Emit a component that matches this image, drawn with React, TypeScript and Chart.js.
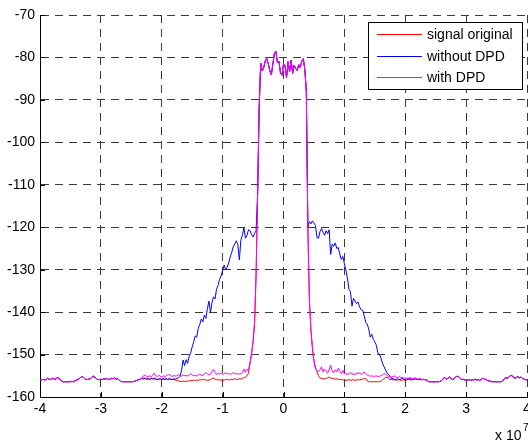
import React, { useEffect, useRef } from "react";
import { Chart, registerables } from "chart.js";

Chart.register(...registerables);

// Sample grid of the spectra (Hz)
const FREQ_START_HZ = -4e7;
const FREQ_STEP_HZ = 2.5e5;

const X_TICKS = [-4, -3, -2, -1, 0, 1, 2, 3, 4]; // in units of 1e7 Hz
const Y_TICKS = [-160, -150, -140, -130, -120, -110, -100, -90, -80, -70];

const SERIES_LABELS = ["signal original", "without DPD", "with DPD"];
const SERIES_COLORS = ["#ff0000", "#0000ff", "#ff00ff"];

// Noise floor shared by every trace, -4.000 .. -2.325 (x1e7 Hz)
const FLOOR_LEFT = [
  -155.9, -156.0, -155.8, -156.0, -155.9, -155.6, -155.8, -155.9, -155.6, -155.7,
  -155.9, -155.5, -155.4, -155.8, -156.2, -156.4, -156.4, -156.4, -156.4, -156.4,
  -156.4, -156.3, -156.4, -156.2, -156.0, -155.9, -155.6, -155.3, -155.2, -155.6,
  -155.8, -155.9, -155.8, -155.7, -155.4, -155.1, -155.3, -155.7, -155.9, -155.9,
  -155.8, -155.9, -155.7, -155.8, -155.6, -155.9, -155.8, -155.6, -155.7, -155.5,
  -155.8, -155.7, -156.0, -156.3, -156.4, -156.4, -156.4, -156.4, -156.4, -156.4,
  -156.4, -156.4, -156.3, -156.2, -156.0, -155.9, -155.8, -155.6,
];

// Noise floor shared by every trace, 2.325 .. 4.000
const FLOOR_RIGHT = [
  -155.9, -156.0, -156.3, -156.4, -156.4, -156.4, -156.4, -156.4, -156.4, -156.4,
  -156.3, -156.1, -155.6, -155.4, -155.8, -155.6, -155.3, -155.6, -155.9, -155.7,
  -155.3, -155.1, -155.2, -155.6, -155.9, -155.8, -156.0, -155.9, -156.0, -155.9,
  -156.1, -155.9, -156.0, -155.8, -156.0, -155.9, -156.1, -155.8, -155.6, -155.7,
  -155.9, -156.1, -156.2, -156.3, -156.4, -156.4, -156.4, -156.4, -156.4, -156.4,
  -156.4, -156.2, -155.8, -155.4, -155.6, -155.3, -155.0, -154.9, -155.3, -155.6,
  -155.4, -155.2, -155.5, -155.3, -155.6, -155.8, -155.9, -156.0,
];

// Main channel, -0.550 .. 0.550
const MAIN_BAND = [
  -152.0, -149.8, -147.0, -142.5, -131.0, -112.0, -92.0, -81.3, -83.2, -82.4,
  -80.8, -80.3, -81.5, -83.1, -84.1, -81.6, -79.1, -78.6, -81.2, -80.9,
  -83.6, -84.2, -81.6, -81.9, -84.8, -81.0, -83.4, -80.6, -83.8, -81.8,
  -82.6, -83.1, -81.7, -82.4, -80.9, -80.3, -82.8, -88.0, -120.0, -137.0,
  -144.0, -148.5, -151.5, -153.2, -154.0,
];

// signal original, -2.300 .. -0.575 and 0.575 .. 2.300
const ORIGINAL_SIDE_LEFT = [
  -155.6, -155.5, -155.7, -155.6, -155.8, -155.7, -155.6, -155.8, -155.7, -155.9,
  -155.8, -155.7, -155.8, -155.9, -155.8, -155.7, -155.9, -155.8, -155.9, -155.8,
  -155.9, -156.0, -156.1, -156.2, -156.3, -156.3, -156.3, -156.3, -156.3, -156.3,
  -156.2, -156.1, -156.2, -156.0, -156.1, -156.0, -156.1, -155.9, -156.0, -155.8,
  -155.9, -156.0, -156.1, -156.0, -155.9, -155.7, -155.5, -155.8, -155.9, -156.0,
  -155.9, -156.0, -156.1, -156.0, -155.9, -155.8, -156.0, -155.9, -155.8, -155.9,
  -155.7, -155.8, -155.9, -155.7, -155.8, -155.6, -155.5, -155.3, -155.0, -154.4,
];
const ORIGINAL_SIDE_RIGHT = [
  -155.0, -155.5, -155.7, -155.6, -155.8, -155.6, -155.5, -155.3, -155.5, -155.7,
  -155.6, -155.8, -155.7, -155.9, -155.8, -155.9, -156.0, -155.9, -156.1, -156.0,
  -155.9, -156.1, -156.0, -155.9, -156.1, -156.0, -155.9, -156.0, -155.9, -155.8,
  -155.7, -155.6, -156.2, -156.4, -156.4, -156.4, -156.4, -156.4, -156.4, -156.4,
  -156.4, -156.3, -156.0, -155.7, -155.4, -155.3, -155.6, -155.9, -155.8, -156.0,
  -155.9, -156.1, -156.0, -155.9, -156.1, -156.0, -155.9, -156.1, -156.0, -155.8,
  -155.9, -156.0, -155.9, -155.7, -155.8, -155.9, -155.8, -156.0, -155.9, -155.9,
];

// without DPD: spectral regrowth shoulders
const NO_DPD_SIDE_LEFT = [
  -155.8, -155.6, -155.9, -155.7, -155.9, -155.6, -155.8, -155.5, -155.8, -155.9,
  -155.7, -155.8, -155.9, -155.6, -155.8, -155.7, -155.9, -155.6, -155.8, -155.9,
  -155.7, -155.8, -155.6, -155.5, -155.1, -153.8, -151.3, -152.6, -151.2, -152.1,
  -150.4, -149.6, -148.2, -147.0, -145.6, -145.9, -143.8, -142.9, -141.6, -142.3,
  -140.7, -141.5, -139.2, -137.4, -140.1, -137.8, -136.4, -136.9, -134.6, -133.7,
  -132.3, -131.5, -130.2, -128.9, -130.0, -129.4, -128.4, -127.0, -125.9, -124.6,
  -123.9, -123.2, -124.1, -127.7, -123.0, -121.8, -120.1, -122.6, -121.9, -120.6,
];
const NO_DPD_SHOULDER_LEFT = [-120.8, -121.7, -122.3, -121.4, -120.9]; // -0.550 .. -0.450
const NO_DPD_SHOULDER_RIGHT = [-118.7, -119.2, -118.5, -119.0, -119.6, -122.4]; // 0.425 .. 0.550
const NO_DPD_SIDE_RIGHT = [
  -122.6, -121.0, -120.3, -121.2, -121.9, -120.8, -121.5, -120.6, -126.4, -124.0,
  -124.5, -123.7, -125.0, -124.8, -126.3, -127.6, -126.9, -128.6, -130.1, -132.0,
  -134.6, -135.2, -138.6, -136.8, -137.4, -138.0, -137.6, -138.8, -139.4, -139.6,
  -140.8, -142.4, -142.8, -144.0, -145.9, -145.2, -146.4, -147.0, -147.8, -149.6,
  -149.9, -150.8, -152.0, -152.8, -153.6, -154.3, -154.7, -155.1, -155.8, -155.6,
  -155.9, -155.8, -155.7, -155.9, -155.8, -155.6, -155.8, -155.9, -155.7, -155.8,
  -155.6, -155.9, -155.7, -155.8, -155.6, -155.9, -155.8, -155.7, -155.9, -155.8,
];

// with DPD: residual distortion just above the floor
const DPD_SIDE_LEFT = [
  -155.0, -154.8, -155.1, -155.3, -155.0, -155.2, -154.9, -154.4, -155.0, -155.2,
  -154.9, -155.1, -155.3, -155.0, -155.2, -155.0, -154.8, -154.7, -155.0, -155.2,
  -154.9, -155.1, -155.0, -154.7, -155.0, -155.1, -154.8, -155.0, -154.9, -155.1,
  -154.8, -154.5, -154.8, -155.0, -154.9, -155.1, -154.8, -154.6, -154.9, -155.0,
  -154.5, -154.2, -154.6, -154.8, -154.6, -154.1, -153.5, -154.2, -154.7, -154.4,
  -154.6, -154.3, -154.7, -154.5, -154.3, -154.6, -154.4, -154.7, -154.5, -154.2,
  -154.6, -154.4, -154.7, -154.5, -154.6, -154.3, -153.4, -154.2, -153.5, -153.6,
];
const DPD_SIDE_RIGHT = [
  -154.0, -153.6, -152.9, -154.1, -153.4, -153.8, -154.4, -153.5, -152.5, -153.9,
  -154.3, -153.6, -154.1, -153.2, -153.9, -154.5, -153.7, -154.6, -154.3, -154.8,
  -154.5, -154.2, -154.7, -154.4, -154.8, -154.3, -154.6, -154.2, -154.7, -154.4,
  -154.1, -154.5, -154.8, -155.0, -155.1, -155.0, -155.2, -155.1, -155.0, -155.2,
  -155.1, -155.0, -154.8, -154.5, -154.6, -154.9, -155.2, -155.1, -155.3, -155.2,
  -155.0, -155.3, -155.4, -155.2, -155.4, -155.3, -155.5, -155.6, -155.5, -155.7,
  -155.4, -155.6, -155.7, -155.5, -155.6, -155.8, -155.7, -155.8, -155.9, -155.9,
];

const SIGNAL_ORIGINAL = [
  ...FLOOR_LEFT, ...ORIGINAL_SIDE_LEFT, ...MAIN_BAND, ...ORIGINAL_SIDE_RIGHT, ...FLOOR_RIGHT,
];
const WITHOUT_DPD = [
  ...FLOOR_LEFT, ...NO_DPD_SIDE_LEFT, ...NO_DPD_SHOULDER_LEFT, ...MAIN_BAND.slice(5, 39),
  ...NO_DPD_SHOULDER_RIGHT, ...NO_DPD_SIDE_RIGHT, ...FLOOR_RIGHT,
];
const WITH_DPD = [
  ...FLOOR_LEFT, ...DPD_SIDE_LEFT, ...MAIN_BAND, ...DPD_SIDE_RIGHT, ...FLOOR_RIGHT,
];

const FONT = "'Liberation Sans', Arial, Helvetica, sans-serif";

const toPoints = (vals: number[]) =>
  vals.map((y, i) => ({ x: FREQ_START_HZ + i * FREQ_STEP_HZ, y }));

// Inward tick marks, boxed legend and the axis exponent
const axesDecor = {
  id: "axesDecor",
  afterDraw(chart: any) {
    const { ctx, chartArea: a, scales } = chart;
    ctx.save();
    ctx.strokeStyle = "#000";
    ctx.lineWidth = 1;
    ctx.beginPath();
    for (const t of scales.x.ticks) {
      const px = Math.round(scales.x.getPixelForValue(t.value)) + 0.5;
      ctx.moveTo(px, a.bottom);
      ctx.lineTo(px, a.bottom - 5);
    }
    for (const t of scales.y.ticks) {
      const py = Math.round(scales.y.getPixelForValue(t.value)) + 0.5;
      ctx.moveTo(a.left, py);
      ctx.lineTo(a.left + 5, py);
    }
    ctx.stroke();

    // legend
    const bx = 368.5, by = 22.5, bw = 154, bh = 67;
    ctx.fillStyle = "#fff";
    ctx.fillRect(bx, by, bw, bh);
    ctx.strokeStyle = "#000";
    ctx.strokeRect(bx, by, bw, bh);
    const rows = [34.5, 56.5, 77.5];
    ctx.font = `14px ${FONT}`;
    ctx.textAlign = "left";
    ctx.textBaseline = "middle";
    chart.data.datasets.forEach((ds: any, i: number) => {
      ctx.strokeStyle = ds.borderColor;
      ctx.beginPath();
      ctx.moveTo(377, rows[i]);
      ctx.lineTo(422, rows[i]);
      ctx.stroke();
      ctx.fillStyle = "#000";
      ctx.fillText(ds.label, 427, rows[i] + 0.5);
    });

    // x 10^7
    ctx.fillStyle = "#000";
    ctx.textBaseline = "alphabetic";
    ctx.font = `14px ${FONT}`;
    ctx.fillText("x 10", 495, 440);
    ctx.font = `10px ${FONT}`;
    ctx.fillText("7", 523, 431);
    ctx.restore();
  },
};

export default function App() {
  const canvasRef = useRef<HTMLCanvasElement | null>(null);

  useEffect(() => {
    if (!canvasRef.current) return;
    const seriesData = [SIGNAL_ORIGINAL, WITHOUT_DPD, WITH_DPD];
    const chart = new Chart(canvasRef.current, {
      type: "line",
      data: {
        datasets: seriesData.map((vals, i) => ({
          label: SERIES_LABELS[i],
          data: toPoints(vals),
          borderColor: SERIES_COLORS[i],
          backgroundColor: SERIES_COLORS[i],
          borderWidth: 1,
          pointRadius: 0,
          fill: false,
          tension: 0,
          order: seriesData.length - 1 - i,
        })),
      },
      options: {
        responsive: false,
        animation: false,
        events: [],
        layout: { padding: { top: 15, right: 1, left: 0, bottom: 0 } },
        plugins: { legend: { display: false }, tooltip: { enabled: false } },
        scales: {
          x: {
            type: "linear",
            min: X_TICKS[0] * 1e7,
            max: X_TICKS[X_TICKS.length - 1] * 1e7,
            afterBuildTicks: (s: any) => {
              s.ticks = X_TICKS.map((v) => ({ value: v * 1e7 }));
            },
            afterFit: (s: any) => {
              s.height = 46;
              s.paddingLeft = 0;
              s.paddingRight = 0;
            },
            ticks: {
              autoSkip: false,
              maxRotation: 0,
              padding: 4,
              color: "#000",
              font: { family: FONT, size: 14 },
              callback: (v: any) => String(Math.round(Number(v) / 1e7)),
            },
            grid: { color: "#3a3a3a", lineWidth: 1, drawTicks: false },
            border: { display: true, color: "#000", width: 1, dash: [8, 6] },
          },
          y: {
            type: "linear",
            min: Y_TICKS[0],
            max: Y_TICKS[Y_TICKS.length - 1],
            afterBuildTicks: (s: any) => {
              s.ticks = Y_TICKS.map((v) => ({ value: v }));
            },
            afterFit: (s: any) => {
              s.width = 40;
              s.paddingTop = 0;
              s.paddingBottom = 0;
            },
            ticks: {
              autoSkip: false,
              padding: 5,
              color: "#000",
              font: { family: FONT, size: 14 },
              callback: (v: any) => String(v),
            },
            grid: { color: "#3a3a3a", lineWidth: 1, drawTicks: false },
            border: { display: true, color: "#000", width: 1, dash: [8, 6] },
          },
        },
      },
      plugins: [axesDecor],
    });
    return () => chart.destroy();
  }, []);

  return (
    <div style={{ position: "fixed", left: 0, top: 0, width: 528, height: 443, background: "#fff" }}>
      <canvas ref={canvasRef} width={528} height={443} style={{ display: "block" }} />
    </div>
  );
}
